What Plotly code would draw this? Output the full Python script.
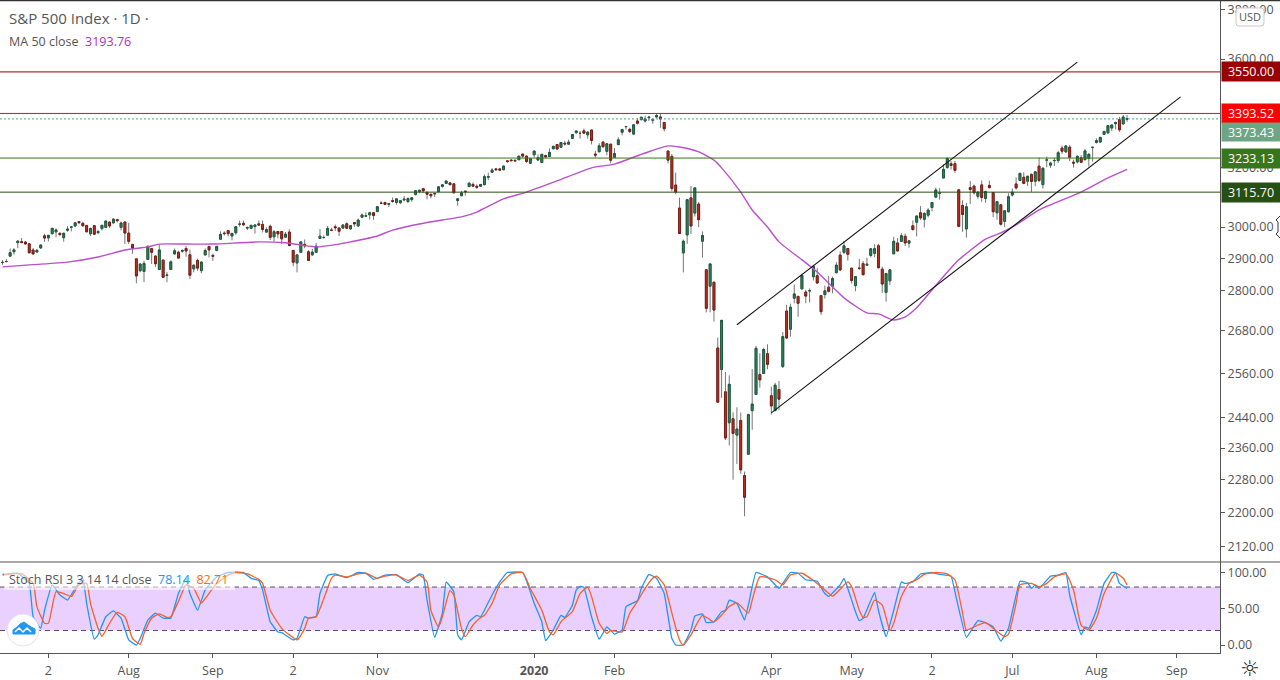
import math
import plotly.graph_objects as go
from plotly.subplots import make_subplots

# ---- Daily bars, Jun 2019 .. Aug 2020, month by month ----
opens = [
 2886.8,2889.8,2906.7,2920.6,2949.6,2952.7,2951.4,2945.8,2926.1,2919.7,2932.9,
 2971.4,2964.7,2978.1,2984.3,2979.8,2965.5,2989.3,2999.6,3003.4,3017.8,3012.1,3005.1,2978.1,3004.3,2981.9,2994.7,2998.8,3016.3,3013.3,3024.5,2998.8,3016.2,
 2980.3,2943.9,2898.1,2861.2,2858.7,2896.2,2930.5,2907.1,2864.7,2894.2,2846.2,2864.7,2913.5,2919.0,2922.0,2930.9,2911.1,2866.7,2893.1,2861.3,2910.4,2937.1,
 2909.0,2924.7,2960.6,2980.3,2988.4,2971.0,2981.4,3009.1,3012.2,2996.4,2995.7,3001.5,3010.4,3008.4,2983.5,3002.4,2968.4,2985.5,2985.5,2967.1,
 2983.7,2924.8,2885.4,2918.6,2944.2,2920.4,2911.1,2918.6,2963.1,2965.8,2973.6,2989.7,3000.8,2996.8,2996.5,3010.7,2994.0,3014.8,3003.3,3032.1,3035.4,3039.7,3046.9,
 3050.7,3078.96,3080.8,3075.1,3087.0,3081.3,3080.3,3089.3,3084.2,3090.8,3107.9,3117.9,3127.5,3114.7,3108.5,3111.4,3117.4,3134.9,3145.5,3147.2,
 3143.9,3087.4,3103.5,3119.2,3134.6,3141.9,3135.4,3135.8,3141.2,3166.7,3183.6,3195.4,3195.2,3192.3,3223.3,3226.1,3225.5,3227.2,3247.2,3240.1,3215.2,
 3244.7,3226.4,3217.6,3241.9,3238.6,3266.0,3281.0,3271.1,3285.4,3282.3,3302.97,3323.7,3321.0,3330.0,3315.8,3333.1,3247.2,3255.4,3289.5,3256.5,3282.3,
 3235.7,3280.6,3324.9,3344.9,3335.5,3318.3,3365.9,3370.5,3365.9,3378.1,3369.0,3380.4,3380.5,3360.5,3257.6,3239.0,3139.9,3062.5,2916.9,
 2974.3,3096.5,3045.8,3075.7,2954.2,2863.9,2813.5,2825.6,2630.9,2569.99,2508.6,2425.7,2436.5,2393.5,2431.9,2290.7,2344.4,2457.8,2501.3,2555.9,2558.98,2614.7,
 2498.1,2458.5,2514.9,2578.3,2738.6,2685.0,2776.99,2782.5,2805.1,2795.6,2799.3,2842.4,2845.6,2784.8,2787.9,2810.4,2812.6,2854.65,2909.96,2918.5,2930.9,
 2869.1,2815.0,2868.9,2883.1,2878.3,2908.8,2915.5,2939.5,2865.9,2794.5,2829.95,2913.9,2948.6,2953.6,2969.95,2948.0,3004.1,3015.7,3046.6,3025.2,
 3038.8,3064.2,3098.9,3111.6,3163.8,3199.9,3213.3,3213.4,3123.5,3071.0,2993.8,3131.0,3136.1,3101.6,3140.3,3094.4,3138.7,3114.4,3046.6,3073.2,3018.6,3050.2,
 3105.9,3143.6,3155.3,3166.4,3153.1,3176.2,3152.5,3205.1,3141.1,3225.98,3208.4,3224.2,3224.3,3268.5,3254.9,3271.6,3218.6,3219.8,3234.3,3227.2,3231.8,3270.5,
 3288.3,3289.9,3317.4,3323.2,3340.1,3356.0,3370.3,3355.0,3372.9,
]
highs = [
 2894.5,2897.3,2930.8,2931.7,2958.1,2964.2,2954.9,2946.5,2932.6,2929.3,2943.9,
 2977.9,2973.2,2995.8,2995.0,2980.8,2981.9,3002.9,3002.3,3013.9,3017.8,3015.0,3005.9,2998.3,3006.0,2990.7,3005.9,3019.6,3016.3,3027.9,3025.6,3017.4,3017.4,
 3013.6,2945.5,2898.1,2884.4,2892.2,2938.7,2930.5,2907.1,2943.3,2894.2,2856.7,2893.6,2931.0,2923.8,2928.7,2939.1,2927.2,2879.3,2898.8,2890.0,2930.9,2940.4,
 2914.4,2938.8,2985.9,2985.9,2989.4,2979.4,3000.9,3020.7,3021.0,3002.2,3006.2,3007.8,3021.2,3021.2,2999.2,3007.98,2989.8,2987.3,2987.3,2983.9,
 2992.5,2924.8,2911.1,2952.9,2959.8,2925.5,2929.3,2948.5,2993.3,2972.8,3003.3,2997.5,3008.3,2998.7,3007.3,3014.6,3004.9,3016.1,3027.4,3044.0,3047.9,3050.1,3046.9,
 3066.95,3085.2,3083.9,3078.3,3097.8,3093.1,3088.3,3102.6,3098.1,3098.2,3120.5,3124.0,3127.6,3118.97,3110.1,3112.9,3133.8,3142.7,3154.3,3150.3,
 3144.3,3094.97,3119.4,3119.4,3150.6,3148.9,3142.1,3143.98,3176.3,3182.7,3197.7,3198.2,3198.5,3205.5,3225.6,3227.8,3226.4,3240.1,3247.9,3240.9,3231.7,
 3258.1,3246.2,3246.8,3244.9,3267.1,3275.6,3282.99,3288.1,3294.2,3298.7,3317.1,3329.9,3329.8,3337.8,3326.9,3333.2,3258.9,3285.8,3293.5,3285.9,3282.3,
 3268.4,3306.9,3337.6,3347.96,3341.4,3352.3,3375.6,3381.5,3385.1,3380.7,3375.0,3393.5,3393.5,3360.8,3259.8,3246.99,3182.5,3097.1,2959.7,
 3090.96,3136.7,3130.97,3083.0,2985.9,2863.9,2882.6,2825.6,2660.95,2711.3,2562.98,2553.9,2453.6,2466.97,2453.0,2300.7,2449.7,2571.4,2637.0,2615.9,2631.8,2641.4,
 2522.8,2533.2,2538.2,2676.9,2756.9,2760.8,2818.6,2782.5,2851.9,2801.9,2806.5,2879.2,2868.98,2785.5,2815.1,2844.9,2842.7,2887.7,2921.2,2954.9,2930.9,
 2869.1,2844.2,2898.2,2891.1,2901.9,2932.2,2944.25,2945.8,2874.1,2852.8,2865.0,2968.1,2964.2,2980.3,2978.5,2956.8,3021.7,3036.25,3068.7,3049.2,
 3062.2,3081.1,3130.9,3128.9,3211.7,3233.1,3222.7,3223.3,3123.5,3088.4,3079.8,3153.5,3141.2,3120.0,3155.5,3120.9,3154.9,3115.0,3086.25,3073.7,3053.9,3111.5,
 3128.4,3165.8,3182.6,3184.2,3171.8,3179.8,3186.8,3235.3,3200.95,3238.3,3220.4,3233.5,3258.6,3277.3,3279.3,3279.0,3227.3,3241.4,3243.7,3264.7,3250.9,3272.2,
 3302.7,3306.8,3330.8,3351.0,3352.5,3363.3,3381.0,3387.9,3387.2,
]
lows = [
 2879.6,2887.3,2905.4,2911.4,2931.5,2946.9,2944.1,2916.0,2912.0,2918.6,2929.1,
 2952.2,2953.6,2977.9,2966.7,2970.0,2952.2,2984.6,2985.7,3001.2,3008.8,3001.2,2984.4,2970.6,2975.9,2976.6,2988.6,2996.8,2996.2,3012.7,3014.6,2988.8,2945.2,
 2945.2,2914.1,2822.1,2856.0,2825.7,2894.5,2882.0,2873.1,2864.7,2839.6,2825.5,2864.7,2913.5,2899.6,2917.9,2904.5,2834.97,2856.0,2860.6,2853.1,2910.4,2902.5,
 2891.9,2921.9,2960.6,2972.5,2969.4,2957.0,2975.3,3000.9,3003.2,2990.0,2993.9,2978.6,3003.2,2982.6,2982.2,2957.7,2952.9,2963.7,2945.5,2967.1,
 2938.0,2874.9,2855.9,2918.6,2931.9,2892.1,2907.0,2917.3,2963.1,2962.3,2973.6,2986.2,2987.3,2971.0,2995.4,2995.1,2991.2,3000.4,3001.9,3032.1,3034.1,3025.0,3023.2,
 3050.7,3074.9,3072.2,3065.9,3080.2,3073.6,3075.8,3084.7,3078.8,3083.3,3104.6,3112.1,3113.5,3091.4,3094.6,3099.3,3117.4,3131.0,3143.4,3139.3,
 3110.8,3070.3,3102.5,3103.8,3134.6,3135.5,3126.1,3133.2,3138.5,3156.5,3183.6,3191.0,3191.1,3192.3,3216.0,3222.3,3220.5,3227.2,3234.4,3216.6,3212.0,
 3235.5,3222.3,3214.6,3232.4,3236.7,3263.7,3260.9,3268.4,3277.2,3280.7,3302.97,3318.9,3301.9,3320.0,3301.9,3281.5,3234.5,3253.2,3268.97,3242.8,3214.7,
 3235.7,3280.6,3313.75,3334.4,3322.1,3317.8,3352.7,3369.7,3360.5,3366.2,3355.6,3378.8,3341.4,3328.5,3214.7,3118.8,3108.99,2977.4,2855.8,
 2945.2,2976.6,3034.4,2999.8,2901.5,2734.4,2734.4,2707.2,2478.9,2492.4,2380.9,2367.0,2280.5,2319.8,2295.6,2191.9,2344.4,2407.5,2500.7,2520.0,2558.98,2571.2,
 2447.5,2455.8,2459.96,2574.6,2657.7,2663.3,2762.0,2721.2,2805.1,2761.5,2764.3,2830.9,2820.4,2727.1,2775.95,2794.3,2791.8,2854.65,2860.4,2912.9,2892.5,
 2821.6,2797.85,2863.5,2847.7,2876.5,2902.9,2903.4,2869.6,2793.2,2766.6,2816.8,2913.9,2922.4,2953.6,2938.6,2933.6,2988.2,2969.75,3023.4,2998.6,
 3031.5,3051.6,3098.9,3090.4,3163.8,3196.0,3193.1,3181.5,2999.5,2984.5,2965.7,3076.1,3108.0,3093.5,3083.1,3079.8,3127.1,3032.1,3024.0,3004.6,2999.7,3047.8,
 3101.2,3124.5,3155.3,3142.9,3136.5,3115.7,3136.2,3149.4,3127.7,3200.8,3198.6,3205.6,3216.2,3247.7,3253.1,3222.7,3200.0,3214.3,3216.2,3227.2,3204.1,3220.4,
 3284.5,3287.0,3317.4,3318.1,3328.7,3335.0,3326.4,3355.0,3363.1,
]
closes = [
 2886.98,2889.67,2917.75,2926.46,2954.18,2950.46,2945.35,2917.38,2913.78,2924.92,2941.76,
 2964.33,2973.01,2995.82,2990.41,2975.95,2979.63,2993.07,2999.91,3013.77,3014.30,3004.04,2984.42,2995.11,2976.61,2985.03,3005.47,3019.56,3003.67,3025.86,3020.97,3013.18,2980.38,
 2953.56,2932.05,2844.74,2881.77,2883.98,2938.09,2918.65,2882.70,2926.32,2840.60,2847.60,2888.68,2923.65,2900.51,2924.43,2922.95,2847.11,2878.38,2869.16,2887.94,2924.58,2926.46,
 2906.27,2937.78,2976.00,2978.71,2978.43,2979.39,3000.93,3009.57,3007.39,2997.96,3005.70,3006.73,3006.79,2992.07,2991.78,2966.60,2984.87,2977.62,2961.79,2976.74,
 2940.25,2887.61,2910.63,2952.01,2938.79,2893.06,2919.40,2938.13,2970.27,2966.15,2995.68,2989.69,2997.95,2986.20,3006.72,2995.99,3004.52,3010.29,3022.55,3039.42,3036.89,3046.77,3037.56,
 3066.91,3078.27,3074.62,3076.78,3085.18,3093.08,3087.01,3091.84,3094.04,3096.63,3120.46,3122.03,3120.18,3108.46,3103.54,3110.29,3133.64,3140.52,3153.63,3140.98,
 3113.87,3093.20,3112.76,3117.43,3145.91,3135.96,3132.52,3141.63,3168.57,3168.80,3191.45,3192.52,3191.14,3205.37,3221.22,3224.01,3223.38,3239.91,3240.02,3221.29,3230.78,
 3257.85,3234.85,3246.28,3237.18,3253.05,3274.70,3265.35,3288.13,3283.15,3289.29,3316.81,3329.62,3320.79,3321.75,3325.54,3295.47,3243.63,3276.24,3273.40,3283.66,3225.52,
 3248.92,3297.59,3334.69,3345.78,3327.71,3352.09,3357.75,3379.45,3373.94,3380.16,3370.29,3386.15,3373.23,3337.75,3225.89,3128.21,3116.39,2978.76,2954.22,
 3090.23,3003.37,3130.12,3023.94,2972.37,2746.56,2882.23,2741.38,2480.64,2711.02,2386.13,2529.19,2398.10,2409.39,2304.92,2237.40,2447.33,2475.56,2630.07,2541.47,2626.65,2584.59,
 2470.50,2526.90,2488.65,2663.68,2659.41,2749.98,2789.82,2761.63,2846.06,2783.36,2799.55,2874.56,2823.16,2736.56,2799.31,2797.80,2836.74,2878.48,2863.39,2939.51,2912.43,
 2830.71,2842.74,2868.44,2848.42,2881.19,2929.80,2930.19,2870.12,2820.00,2852.50,2863.70,2953.91,2922.94,2971.61,2948.51,2955.45,2991.77,3036.13,3029.73,3044.31,
 3055.73,3080.82,3122.87,3112.35,3193.93,3232.39,3207.18,3190.14,3002.10,3041.31,3066.59,3124.74,3113.49,3115.34,3097.74,3117.86,3131.29,3050.33,3083.76,3009.05,3053.24,3100.29,
 3115.86,3130.01,3179.72,3145.32,3169.94,3152.05,3185.04,3155.22,3197.52,3226.56,3215.57,3224.73,3251.84,3257.30,3276.02,3235.66,3215.63,3239.41,3218.44,3258.44,3246.22,3271.12,
 3294.61,3306.51,3327.77,3349.16,3351.28,3360.47,3333.69,3380.35,3373.43,
]

# MA 50 line: (bar number, price)
ma_points = [(0,2873),(8,2880),(17,2888),(25,2904),(32,2926),(38,2936),(41,2945),(48,2945),(55,2945),
 (67,2952),(74,2949),(78,2942),(82,2936),(88,2945),(91,2952),(98,2971),(102,2990),(109,3010),(115,3023),
 (120,3033),(124,3049),(131,3093),(137,3116),(145,3154),(154,3199),(160,3212),(168,3251),(174,3276),
 (177,3272),(182,3255),(186,3226),(188,3199),(193,3116),(196,3056),(200,3000),(203,2952),(209,2895),
 (213,2857),(220,2778),(226,2733),(229,2730),(233,2712),(236,2721),(239,2748),(243,2802),(248,2870),
 (250,2895),(257,2961),(261,2981),(265,3007),(271,3056),(282,3116),(289,3164),(294,3193.76)]

# Stoch RSI lines: (bar number, value)
k_points = [(0,97.5),(4,99),(7,85),(8,39),(10,23),(11,48),(13,83),(15,69),(17,62),(19,78),(21,92),(22,57.5),(24,8),(25,14),
 (27,39),(29,47),(31,37),(33,7),(35,0),(36,9),(38,34.5),(40,44),(42,37),(44,37),(46,71),(48,92),(49,71),(51,48),(53,76),
 (56,94),(59,100),(63,100),(65,92),(67,89),(68,76),(70,32),(72,18),(73,17),(76,7),(77,9),(79,39),(80,37),(82,39),(83,71),
 (85,96),(87,98),(90,93),(93,100),(95,99),(97,90.5),(100,96.5),(103,97),(106,86),(109,98),(110,96.5),(111,62),(113,10.5),
 (115,44),(116,87),(118,73.5),(119,14),(120,7),(122,32),(124,41),(125,39),(128,69),(130,87),(132,100),(136,100),(138,73.5),
 (139,57.5),(141,32),(142,6),(144,20.7),(146,41),(147,38),(149,55),(150,76),(151,81),(152,79.5),(154,39),(156,8),(158,25),
 (160,15),(162,20.7),(163,53),(166,61),(167,78),(169,97.5),(171,92),(173,71),(175,9),(176,0),(178,0),(180,20.7),(181,40),
 (183,43),(184,31),(186,32),(188,46),(189,48),(190,62),(192,57.5),(194,34.5),(195,55),(197,100),(200,94),(203,78),(204,85),
 (206,100),(208,99),(210,90),(213,88),(215,71),(216,67),(219,83),(220,92),(221,78),(223,46),(224,33.5),(225,37),(228,72.6),
 (229,48),(231,11.5),(233,48),(235,87),(236,85),(238,87),(240,98),(243,100),(245,97.5),(248,95),(249,73.5),(252,10.5),
 (255,33.5),(257,31),(259,25),(261,5.5),(263,23),(266,88),(268,86),(269,78),(270,83),(271,78),(274,95),(276,96.5),(278,100),
 (279,69),(282,14),(283,25),(284,23),(286,48),(288,85),(290,100),(291,100),(292,85),(294,78.14)]
d_points = [(0,96.5),(5,98),(8,85),(9,53),(11,30),(12,30),(14,73.5),(16,71),(18,67),(20,83),(22,85),(23,57.5),(25,23),(26,12),
 (28,30),(30,45),(32,39),(34,9),(36,1),(37,16),(39,37),(41,43),(43,38),(44,39),(46,60),(48,83),(50,78),(52,58),(53,64),
 (56,85),(59,96.5),(61,100),(64,98),(67,90.5),(68,85),(70,48),(73,23),(75,14),(77,7),(79,23),(80,37),(82,39),(84,64),
 (86,92),(87,96.5),(90,94),(93,98),(95,99),(98,92),(100,95),(103,96.5),(106,89),(109,96.5),(111,87),(112,48),(114,25),
 (115,39),(117,75),(118,69),(120,23),(121,11.5),(123,27.6),(125,38),(126,41),(128,57.5),(130,83),(133,98),(136,100),(138,78),
 (141,48),(143,18),(144,14),(146,32),(149,46),(151,71),(153,79.5),(154,67),(156,30),(158,16),(159,20),(162,18),(164,44),
 (166,60),(168,78),(170,92),(171,95),(173,83),(175,44),(177,7),(178,0),(180,14),(183,41),(186,32),(188,41),(190,53),(192,58),
 (195,44),(196,62),(198,94),(202,90),(204,83),(206,96.5),(209,99),(212,89),(214,80.5),(217,67.5),(219,77),(221,87),(222,80.5),
 (224,48),(225,38),(226,39),(228,62),(230,55),(232,20),(233,30),(235,67),(237,85),(239,90),(241,97.5),(244,100),(247,98),
 (249,90),(251,44),(252,20.7),(255,27.6),(257,31),(259,23),(262,11.5),(263,15),(265,57.5),(266,83),(269,85),(271,80.5),
 (273,85),(275,94),(278,98),(280,76),(282,27.6),(284,20.7),(286,37),(288,71),(291,99),(293,92),(294,82.71)]

# Channel lines: (bar number, price)
channel_upper = [(192,2698),(281,3588)]
channel_lower = [(201,2452),(308,3455)]

# Horizontal levels and their badges: (price, label, line colour, badge colour)
levels = [(3550.00,"3550.00","#990000","#990000"),
          (3393.52,"3393.52","#ff0000","#ff0000"),
          (3233.13,"3233.13","#38761d","#38761d"),
          (3115.70,"3115.70","#274e13","#274e13")]
last_price = 3373.43

price_ticks = [3800,3600,3200,3000,2900,2800,2680,2560,2440,2360,2280,2200,2120]
stoch_ticks = [100,50,0]
time_tick_bars = [12,33,55,76,98,139,160,201,222,243,264,286,307]
time_tick_text = ["2","Aug","Sep","2","Nov","<b>2020</b>","Feb","Apr","May","2","Jul","Aug","Sep"]

W, H = 1280, 680
PL, PR, PT, PB = 0, 1220, 1, 653
SEP = 562
GREY = "#555555"
FONT = "Open Sans"

bars = list(range(len(closes)))
xlo, xhi = -0.65, 318.3

def pxx(x): return x / (PR - PL)
def pxy(y): return 1 - (y - PT) / (PB - PT)

fig = make_subplots(rows=2, cols=1, shared_xaxes=True, vertical_spacing=0,
                    row_heights=[(SEP - PT) / (PB - PT), (PB - SEP) / (PB - PT)])

WICK = "#767676"
UP, UPB = "#2f8a5f", "#1d5a3d"
DN, DNB = "#c9301f", "#7a1d14"

# wicks
fig.add_trace(go.Candlestick(x=bars, open=opens, high=highs, low=lows, close=closes,
    whiskerwidth=0,
    increasing=dict(line=dict(color=WICK, width=1), fillcolor=WICK),
    decreasing=dict(line=dict(color=WICK, width=1), fillcolor=WICK),
    hoverinfo="skip"), row=1, col=1)
# bodies
fig.add_trace(go.Candlestick(x=bars, open=opens, close=closes,
    high=[max(o, c) for o, c in zip(opens, closes)],
    low=[min(o, c) for o, c in zip(opens, closes)],
    whiskerwidth=0,
    increasing=dict(line=dict(color=UPB, width=1), fillcolor=UP),
    decreasing=dict(line=dict(color=DNB, width=1), fillcolor=DN),
    hoverinfo="skip"), row=1, col=1)

# MA
fig.add_trace(go.Scatter(x=[p[0] for p in ma_points], y=[p[1] for p in ma_points], mode="lines",
    line=dict(color="#ba4fcb", width=1.4, shape="spline", smoothing=0.6), hoverinfo="skip"), row=1, col=1)

# levels
for price, _, colour, _ in levels:
    fig.add_trace(go.Scatter(x=[xlo, xhi], y=[price, price], mode="lines",
        line=dict(color=colour, width=1), hoverinfo="skip"), row=1, col=1)
fig.add_trace(go.Scatter(x=[xlo, xhi], y=[last_price, last_price], mode="lines",
    line=dict(color="#5f9c80", width=1, dash="2px,2px"), hoverinfo="skip"), row=1, col=1)

# channel
for line in (channel_upper, channel_lower):
    fig.add_trace(go.Scatter(x=[p[0] for p in line], y=[p[1] for p in line], mode="lines",
        line=dict(color="#111111", width=1.1), hoverinfo="skip"), row=1, col=1)

# Stoch RSI
fig.add_shape(type="rect", xref="x2", yref="y2", x0=xlo, x1=xhi, y0=20, y1=80,
              fillcolor="#e9d0fe", line_width=0, layer="below")
for v in (80, 20):
    fig.add_trace(go.Scatter(x=[xlo, xhi], y=[v, v], mode="lines",
        line=dict(color="#5b4a6b", width=1, dash="5px,4px"), hoverinfo="skip"), row=2, col=1)
fig.add_trace(go.Scatter(x=[p[0] for p in k_points], y=[p[1] for p in k_points], mode="lines",
    line=dict(color="#2196f3", width=1.3, shape="spline", smoothing=0.3), hoverinfo="skip"), row=2, col=1)
fig.add_trace(go.Scatter(x=[p[0] for p in d_points], y=[p[1] for p in d_points], mode="lines",
    line=dict(color="#f4622a", width=1.3, shape="spline", smoothing=0.5), hoverinfo="skip"), row=2, col=1)

fig.update_layout(
    width=W, height=H, margin=dict(l=PL, r=W - PR, t=PT, b=H - PB),
    paper_bgcolor="white", plot_bgcolor="white", showlegend=False,
    boxmode="overlay", boxgap=0.3, hovermode=False,
    font=dict(family=FONT, size=12.5, color=GREY),
)
fig.update_xaxes(range=[xlo, xhi], showgrid=False, zeroline=False, rangeslider_visible=False, fixedrange=True)
fig.update_xaxes(row=1, col=1, showticklabels=False, ticks="")
fig.update_xaxes(row=2, col=1, tickmode="array", tickvals=time_tick_bars, ticktext=time_tick_text,
    ticks="outside", ticklen=4, tickcolor=GREY, showline=True, linecolor=GREY, linewidth=1,
    ticklabelstandoff=2, tickfont=dict(family=FONT, size=12.5, color=GREY))
fig.update_yaxes(row=1, col=1, type="log", side="right", range=[math.log10(2085.6), math.log10(3834)],
    tickmode="array", tickvals=price_ticks, ticktext=[f"{v:.2f}" for v in price_ticks],
    ticks="outside", ticklen=4, tickcolor=GREY, showgrid=False, zeroline=False,
    showline=True, linecolor=GREY, linewidth=1, tickfont=dict(family=FONT, size=12.5, color=GREY))
fig.update_yaxes(row=2, col=1, side="right", range=[-11, 114.5],
    tickmode="array", tickvals=stoch_ticks, ticktext=[f"{v:.2f}" for v in stoch_ticks],
    ticks="outside", ticklen=4, tickcolor=GREY, showgrid=False, zeroline=False,
    showline=True, linecolor=GREY, linewidth=1, tickfont=dict(family=FONT, size=12.5, color=GREY))

# frame lines
def hline(y, colour=GREY, width=1):
    fig.add_shape(type="line", xref="paper", yref="paper", x0=0, x1=W / PR, y0=pxy(y), y1=pxy(y),
                  line=dict(color=colour, width=width), layer="above")
hline(0.5, "#333333", 1.5)
hline(SEP)

# price badges
def badge(price, text, colour, ht=19, yshift=0):
    fig.add_annotation(xref="paper", yref="y", x=1, xanchor="left", xshift=1, yshift=yshift,
        y=math.log10(price), yanchor="middle", text=text, showarrow=False, width=58, height=ht,
        bgcolor=colour, font=dict(family=FONT, size=12.5, color="white"), align="center", borderpad=0)
for price, lab, _, colour in levels:
    badge(price, lab, colour)
badge(3373.43, "3373.43", "#6ea584", 18, -13)

# legends
def label(x, y, text, size=12.5):
    fig.add_annotation(xref="paper", yref="paper", x=pxx(x), y=pxy(y), xanchor="left", yanchor="middle",
        text=text, showarrow=False, font=dict(family=FONT, size=size, color=GREY), align="left")
label(7, 18, "S&amp;P 500 Index · 1D ·", 15)
label(7, 42, 'MA 50 close  <span style="color:#a832c0">3193.76</span>')
fig.add_shape(type="rect", xref="paper", yref="paper", x0=pxx(4), x1=pxx(235), y0=pxy(590), y1=pxy(571),
              fillcolor="rgba(255,255,255,0.55)", line_width=0, layer="above")
label(7, 579.5, 'Stoch RSI 3 3 14 14 close  <span style="color:#2196f3">78.14</span>  <span style="color:#ff6d00">82.71</span>')

# USD button
x0, x1, y0, y1 = pxx(1236), pxx(1264), pxy(8), pxy(26)
rx = 3 / PR; ry = 3 / (PB - PT)
fig.add_shape(type="path", xref="paper", yref="paper", layer="above",
    path=(f"M{x0+rx},{y0} L{x1-rx},{y0} Q{x1},{y0} {x1},{y0-ry} L{x1},{y1+ry} Q{x1},{y1} {x1-rx},{y1} "
          f"L{x0+rx},{y1} Q{x0},{y1} {x0},{y1+ry} L{x0},{y0-ry} Q{x0},{y0} {x0+rx},{y0} Z"),
    fillcolor="white", line=dict(color="#c9c9c9", width=1))
fig.add_annotation(xref="paper", yref="paper", x=pxx(1250), y=pxy(17), xanchor="center", yanchor="middle",
    text="USD", showarrow=False, font=dict(family=FONT, size=11, color=GREY))

# logo badge
fig.add_shape(type="circle", xref="paper", yref="paper", layer="above", x0=pxx(7), x1=pxx(39), y0=pxy(646), y1=pxy(614),
    fillcolor="white", line=dict(color="#e4e0ea", width=1))
cloud = [(13,634),(13,630),(17,627),(20,624),(24,622),(28,625),(31,627),(35,629),(35,634)]
fig.add_shape(type="path", xref="paper", yref="paper", layer="above",
    path="M" + " L".join(f"{pxx(a)},{pxy(b)}" for a, b in cloud) + " Z",
    fillcolor="#2196f3", line=dict(color="#2196f3", width=1))
wave = [(15,632),(19,628),(23,632),(27,628),(31,632)]
fig.add_shape(type="path", xref="paper", yref="paper", layer="above",
    path="M" + " L".join(f"{pxx(a)},{pxy(b)}" for a, b in wave),
    line=dict(color="white", width=1.5))

# pointer glyph clipped at the right edge
glyph = [(1280,216),(1276,220),(1278,222),(1278,232),(1276,234),(1280,238)]
fig.add_shape(type="path", xref="paper", yref="paper", layer="above",
    path="M" + " L".join(f"{pxx(a)},{pxy(b)}" for a, b in glyph),
    fillcolor="white", line=dict(color="#333333", width=1))

# settings glyph
fig.add_annotation(xref="paper", yref="paper", x=pxx(1250), y=pxy(668), xanchor="center", yanchor="middle",
    text="☼", showarrow=False, font=dict(family="DejaVu Sans", size=22, color="#222222"))

fig.write_html("out.html", config=dict(displayModeBar=False),
               post_script="document.body.style.margin='0';document.body.style.overflow='hidden';")
